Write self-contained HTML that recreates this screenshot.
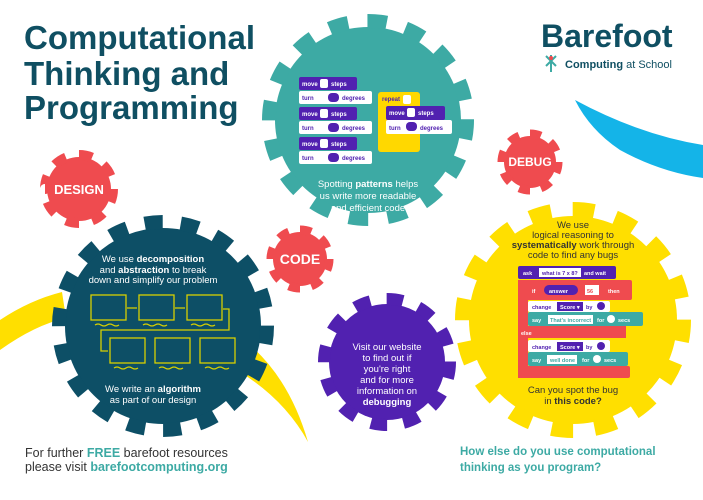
<!DOCTYPE html>
<html><head><meta charset="utf-8"><style>
html,body{margin:0;padding:0;background:#fff;}
svg{display:block;font-family:"Liberation Sans",sans-serif;}
</style></head><body>
<svg width="703" height="500" viewBox="0 0 703 500" xmlns="http://www.w3.org/2000/svg">
<!-- swooshes -->
<path d="M0,320 Q30,300 62,292 L66,318 Q35,325 0,350 Z" fill="#ffdf00"/>
<path d="M250,345 Q290,380 308,442 Q285,400 240,372 Z" fill="#ffdf00"/>
<path d="M575,100 Q640,135 703,145 L703,178 Q660,172 620,150 Q590,130 575,100 Z" fill="#14b4e8"/>

<!-- teal gear -->
<circle cx="368" cy="120" r="93" fill="#3daaa4"/>
<circle cx="368" cy="120" r="99" fill="none" stroke="#3daaa4" stroke-width="14" pathLength="160" stroke-dasharray="5 5"/>
<!-- dark gear -->
<circle cx="163" cy="326" r="98" fill="#0d4f66"/>
<circle cx="163" cy="326" r="104" fill="none" stroke="#0d4f66" stroke-width="14" pathLength="180" stroke-dasharray="5 5"/>
<!-- yellow gear -->
<circle cx="573" cy="320" r="104" fill="#ffdf00"/>
<circle cx="573" cy="320" r="110" fill="none" stroke="#ffdf00" stroke-width="16" pathLength="160" stroke-dasharray="5 5"/>
<!-- purple gear -->
<circle cx="387" cy="362" r="58" fill="#5121b0"/>
<circle cx="387" cy="362" r="63" fill="none" stroke="#5121b0" stroke-width="12" pathLength="120" stroke-dasharray="5 5"/>
<!-- red gears -->
<circle cx="79" cy="189" r="32" fill="#ef4b4f"/>
<circle cx="79" cy="189" r="34" fill="none" stroke="#ef4b4f" stroke-width="10" pathLength="80" stroke-dasharray="5 5"/>
<circle cx="300" cy="259" r="27" fill="#ef4b4f"/>
<circle cx="300" cy="259" r="29" fill="none" stroke="#ef4b4f" stroke-width="9" pathLength="80" stroke-dasharray="5 5"/>
<circle cx="530" cy="162" r="26" fill="#ef4b4f"/>
<circle cx="530" cy="162" r="28" fill="none" stroke="#ef4b4f" stroke-width="9" pathLength="80" stroke-dasharray="5 5"/>
<g fill="#fff" font-weight="bold" text-anchor="middle">
<text x="79" y="194" font-size="13">DESIGN</text>
<text x="300" y="264" font-size="14">CODE</text>
<text x="530" y="166" font-size="12">DEBUG</text>
</g>

<!-- title -->
<g fill="#0f4f62" font-weight="bold" font-size="33">
<text x="24" y="49">Computational</text>
<text x="24" y="85">Thinking and</text>
<text x="24" y="119">Programming</text>
</g>
<text x="541" y="47" fill="#0f4f62" font-weight="bold" font-size="32">Barefoot</text>
<text x="565" y="68" fill="#0f4f62" font-size="11"><tspan font-weight="bold">Computing</tspan> at School</text>
<path d="M546,56 L556,66 M556,56 L546,66 M551,55 L551,72" stroke="#3daaa4" stroke-width="2"/>
<circle cx="551" cy="58" r="2" fill="#ef4b4f"/>

<!-- teal code blocks -->
<g font-size="6" font-weight="bold">
<g fill="#5121b0"><rect x="299" y="77" width="58" height="13" rx="2"/><rect x="299" y="107" width="58" height="13" rx="2"/><rect x="299" y="137" width="58" height="13" rx="2"/></g>
<g fill="#fff"><rect x="299" y="91" width="73" height="13" rx="2"/><rect x="299" y="121" width="73" height="13" rx="2"/><rect x="299" y="151" width="73" height="13" rx="2"/></g>
<g fill="#fff"><text x="302" y="86">move</text><text x="302" y="116">move</text><text x="302" y="146">move</text>
<rect x="320" y="79" width="8" height="9" rx="2"/><rect x="320" y="109" width="8" height="9" rx="2"/><rect x="320" y="139" width="8" height="9" rx="2"/>
<text x="331" y="86">steps</text><text x="331" y="116">steps</text><text x="331" y="146">steps</text></g>
<g fill="#5121b0"><text x="302" y="100">turn</text><text x="302" y="130">turn</text><text x="302" y="160">turn</text>
<rect x="328" y="93" width="11" height="9" rx="4"/><rect x="328" y="123" width="11" height="9" rx="4"/><rect x="328" y="153" width="11" height="9" rx="4"/>
<text x="342" y="100">degrees</text><text x="342" y="130">degrees</text><text x="342" y="160">degrees</text></g>
<rect x="378" y="92" width="42" height="60" rx="3" fill="#ffd800"/>
<text x="382" y="101" fill="#5121b0">repeat</text><rect x="403" y="95" width="8" height="9" rx="2" fill="#fff"/>
<rect x="386" y="106" width="59" height="14" rx="2" fill="#5121b0"/>
<rect x="386" y="120" width="66" height="14" rx="2" fill="#fff"/>
<text x="389" y="115" fill="#fff">move</text><rect x="407" y="108" width="8" height="9" rx="2" fill="#fff"/><text x="418" y="115" fill="#fff">steps</text>
<text x="389" y="130" fill="#5121b0">turn</text><rect x="406" y="122" width="11" height="9" rx="4" fill="#5121b0"/><text x="420" y="130" fill="#5121b0">degrees</text>
</g>
<g fill="#fff" font-size="9.5" text-anchor="middle">
<text x="368" y="187">Spotting <tspan font-weight="bold">patterns</tspan> helps</text>
<text x="368" y="199">us write more readable</text>
<text x="368" y="211">and efficient code</text>
</g>

<!-- dark gear contents -->
<g fill="#fff" font-size="9.5" text-anchor="middle">
<text x="153" y="262">We use <tspan font-weight="bold">decomposition</tspan></text>
<text x="153" y="273">and <tspan font-weight="bold">abstraction</tspan> to break</text>
<text x="153" y="283">down and simplify our problem</text>
<text x="153" y="392">We write an <tspan font-weight="bold">algorithm</tspan></text>
<text x="153" y="403">as part of our design</text>
</g>
<g fill="none" stroke="#d8d000" stroke-width="1.3">
<rect x="91" y="295" width="35" height="25"/><rect x="139" y="295" width="35" height="25"/><rect x="187" y="295" width="35" height="25"/>
<rect x="110" y="338" width="35" height="25"/><rect x="155" y="338" width="35" height="25"/><rect x="200" y="338" width="35" height="25"/>
<path d="M127,308 H137 M175,308 H185 M223,309 H229 V330 H101 V351 H108"/>
<path d="M95,325 q3,-2 6,0 t6,0 t6,0 t6,0 M143,325 q3,-2 6,0 t6,0 t6,0 t6,0 M191,325 q3,-2 6,0 t6,0 t6,0 t6,0 M114,368 q3,-2 6,0 t6,0 t6,0 t6,0 M159,368 q3,-2 6,0 t6,0 t6,0 t6,0 M205,368 q3,-2 6,0 t6,0 t6,0 t6,0"/>
</g>

<!-- purple text -->
<g fill="#fff" font-size="9.5" text-anchor="middle">
<text x="387" y="350">Visit our website</text>
<text x="387" y="361">to find out if</text>
<text x="387" y="372">you're right</text>
<text x="387" y="383">and for more</text>
<text x="387" y="394">information on</text>
<text x="387" y="405" font-weight="bold">debugging</text>
</g>

<!-- yellow gear contents -->
<g fill="#333" font-size="9.5" text-anchor="middle">
<text x="573" y="228">We use</text>
<text x="573" y="238">logical reasoning to</text>
<text x="573" y="248"><tspan font-weight="bold">systematically</tspan> work through</text>
<text x="573" y="258">code to find any bugs</text>
<text x="573" y="393">Can you spot the bug</text>
<text x="573" y="404">in <tspan font-weight="bold">this code?</tspan></text>
</g>
<g font-size="5.5" font-weight="bold">
<rect x="518" y="266" width="98" height="13" rx="2" fill="#5121b0"/>
<rect x="518" y="280" width="10" height="98" fill="#ef4b4f"/>
<rect x="518" y="280" width="114" height="20" rx="2" fill="#ef4b4f"/>
<rect x="518" y="326" width="108" height="12" fill="#ef4b4f"/>
<rect x="518" y="366" width="112" height="12" rx="2" fill="#ef4b4f"/>
<rect x="528" y="301" width="82" height="11" rx="2" fill="#fff"/>
<rect x="528" y="312" width="115" height="14" rx="2" fill="#3daaa4"/>
<rect x="528" y="340" width="82" height="12" rx="2" fill="#fff"/>
<rect x="528" y="352" width="100" height="14" rx="2" fill="#3daaa4"/>
<text x="523" y="275" fill="#fff">ask</text><rect x="539" y="268" width="42" height="9" fill="#fff"/><text x="542" y="275" fill="#5121b0">what is 7 x 8?</text><text x="584" y="275" fill="#fff">and wait</text>
<text x="532" y="293" fill="#fff">if</text><rect x="544" y="285" width="34" height="10" rx="5" fill="#5121b0"/><text x="549" y="293" fill="#fff">answer</text><rect x="585" y="285" width="14" height="10" fill="#fff"/><text x="587" y="293" fill="#ef4b4f">56</text><text x="608" y="293" fill="#fff">then</text>
<text x="532" y="309" fill="#5121b0">change</text><rect x="557" y="302" width="26" height="9" fill="#5121b0"/><text x="560" y="309" fill="#fff">Score ▾</text><text x="586" y="309" fill="#5121b0">by</text><circle cx="601" cy="306" r="4" fill="#5121b0"/>
<text x="532" y="322" fill="#fff">say</text><rect x="548" y="315" width="45" height="9" fill="#fff"/><text x="550" y="322" fill="#3daaa4">That's incorrect</text><text x="597" y="322" fill="#fff">for</text><circle cx="611" cy="319" r="4" fill="#fff"/><text x="618" y="322" fill="#fff">secs</text>
<text x="521" y="335" fill="#fff">else</text>
<text x="532" y="349" fill="#5121b0">change</text><rect x="557" y="342" width="26" height="9" fill="#5121b0"/><text x="560" y="349" fill="#fff">Score ▾</text><text x="586" y="349" fill="#5121b0">by</text><circle cx="601" cy="346" r="4" fill="#5121b0"/>
<text x="532" y="362" fill="#fff">say</text><rect x="547" y="355" width="30" height="9" fill="#fff"/><text x="550" y="362" fill="#3daaa4">well done</text><text x="582" y="362" fill="#fff">for</text><circle cx="597" cy="359" r="4" fill="#fff"/><text x="604" y="362" fill="#fff">secs</text>
</g>

<!-- footer -->
<g font-size="12.5">
<text x="25" y="457" fill="#333">For further <tspan fill="#3daaa4" font-weight="bold">FREE</tspan> barefoot resources</text>
<text x="25" y="471" fill="#333">please visit <tspan fill="#3daaa4" font-weight="bold">barefootcomputing.org</tspan></text>
<text x="460" y="455" fill="#3daaa4" font-weight="bold" font-size="11.5">How else do you use computational</text>
<text x="460" y="471" fill="#3daaa4" font-weight="bold" font-size="11.5">thinking as you program?</text>
</g>
</svg>
</body></html>
